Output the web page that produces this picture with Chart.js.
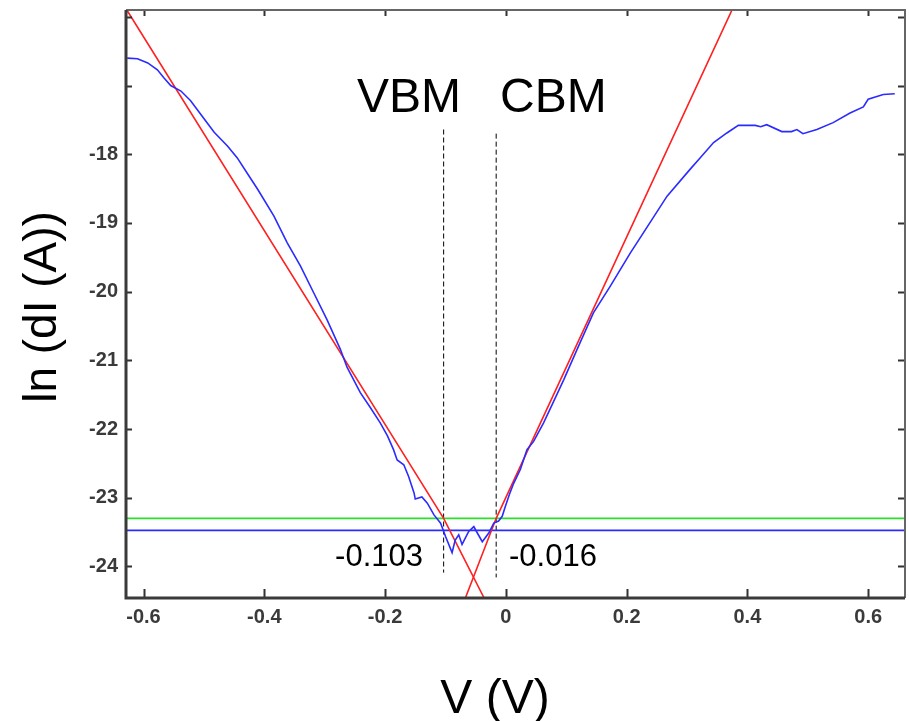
<!DOCTYPE html>
<html>
<head>
<meta charset="utf-8">
<script src="https://cdn.jsdelivr.net/npm/chart.js@4/dist/chart.umd.min.js"></script>
<style>
  html, body { margin: 0; padding: 0; background: #fff; }
  #wrap { width: 909px; height: 721px; }
</style>
</head>
<body>
<div id="wrap"><canvas id="c" width="909" height="721"></canvas></div>
<script>
// Measured tunneling spectrum: bias voltage (V) vs ln(dI)
const blueV = [
  -0.627, -0.610, -0.593, -0.577, -0.566, -0.555, -0.538, -0.522, -0.505, -0.483,
  -0.461, -0.445, -0.428, -0.411, -0.384, -0.362, -0.340, -0.318, -0.296, -0.274,
  -0.263, -0.241, -0.225, -0.208, -0.196, -0.186, -0.180, -0.169, -0.161, -0.152,
  -0.150, -0.139, -0.130, -0.119, -0.108, -0.100, -0.089, -0.084, -0.078, -0.0725,
  -0.0615, -0.053, -0.050, -0.039, -0.028, -0.020, -0.012, -0.006, -0.001, 0.006,
  0.013, 0.024, 0.035, 0.046, 0.0625, 0.079, 0.096, 0.118, 0.145, 0.173,
  0.206, 0.228, 0.267, 0.305, 0.322, 0.344, 0.366, 0.385, 0.413, 0.422,
  0.432, 0.457, 0.473, 0.482, 0.492, 0.515, 0.542, 0.570, 0.592, 0.600,
  0.625, 0.644
];
const blueLnI = [
  -16.60, -16.61, -16.67, -16.77, -16.89, -17.00, -17.08, -17.22, -17.42, -17.68,
  -17.88, -18.05, -18.28, -18.51, -18.90, -19.29, -19.63, -20.02, -20.41, -20.84,
  -21.10, -21.47, -21.68, -21.91, -22.10, -22.30, -22.45, -22.52, -22.69, -22.93,
  -23.02, -22.99, -23.08, -23.25, -23.37, -23.56, -23.80, -23.62, -23.54, -23.68,
  -23.49, -23.42, -23.47, -23.64, -23.51, -23.37, -23.34, -23.27, -23.13, -22.95,
  -22.79, -22.59, -22.30, -22.18, -21.91, -21.60, -21.28, -20.84, -20.31, -19.92,
  -19.44, -19.14, -18.61, -18.22, -18.05, -17.83, -17.69, -17.58, -17.58, -17.60,
  -17.57, -17.67, -17.67, -17.64, -17.70, -17.64, -17.54, -17.40, -17.31, -17.20,
  -17.13, -17.12
];

// Linear fits of the valence and conduction band edges
const redLeftV   = [-0.629, -0.103, -0.036];
const redLeftLnI = [-15.88, -23.30, -24.46];
const redRightV   = [-0.067, -0.016, 0.375];
const redRightLnI = [-24.46, -23.30, -15.89];

// Noise floor levels
const greenLevel = -23.30;
const blueLevel  = -23.475;

// Band edge positions
const vbmV = -0.103;
const cbmV = -0.016;
const vbmLnIRange = [-17.64, -24.09];
const cbmLnIRange = [-17.70, -24.16];

// Axes
const xMin = -0.629, xMax = 0.661;
const yMin = -24.46, yMax = -15.90;
const xTickValues = [-0.6, -0.4, -0.2, 0, 0.2, 0.4, 0.6];
const yTickValues = [-24, -23, -22, -21, -20, -19, -18, -17, -16];
const yLabeledTicks = [-24, -23, -22, -21, -20, -19, -18];

const pts = (xs, ys) => xs.map((x, i) => ({ x: x, y: ys[i] }));

const frameAndTicks = {
  id: 'frameAndTicks',
  afterDatasetsDraw(chart) {
    const { ctx, chartArea: a, scales: { x, y } } = chart;
    ctx.save();
    // inward tick marks on all four sides
    ctx.strokeStyle = '#333';
    ctx.lineWidth = 2;
    ctx.beginPath();
    xTickValues.forEach(v => {
      const px = Math.round(x.getPixelForValue(v)) + 0.5;
      ctx.moveTo(px, a.bottom); ctx.lineTo(px, a.bottom - 9);
      ctx.moveTo(px, a.top); ctx.lineTo(px, a.top + 6);
    });
    yTickValues.forEach(v => {
      const py = Math.round(y.getPixelForValue(v)) + 0.5;
      if (py < a.top + 2) return;
      ctx.moveTo(a.left, py); ctx.lineTo(a.left + 6, py);
      ctx.moveTo(a.right, py); ctx.lineTo(a.right - 7, py);
    });
    ctx.stroke();
    // frame
    ctx.strokeStyle = '#666';
    ctx.lineWidth = 2;
    ctx.beginPath();
    ctx.moveTo(a.left, a.top); ctx.lineTo(a.right, a.top); ctx.lineTo(a.right, a.bottom);
    ctx.stroke();
    ctx.strokeStyle = '#3a3a3a';
    ctx.lineWidth = 3;
    ctx.beginPath();
    ctx.moveTo(a.left, a.top); ctx.lineTo(a.left, a.bottom); ctx.lineTo(a.right, a.bottom);
    ctx.stroke();

    // annotations
    ctx.fillStyle = '#000';
    ctx.textBaseline = 'alphabetic';
    ctx.font = '48px "Liberation Sans", Arial, sans-serif';
    ctx.textAlign = 'left';
    ctx.fillText('VBM', 357, 112);
    ctx.fillText('CBM', 500, 112);
    ctx.font = '31px "Liberation Sans", Arial, sans-serif';
    ctx.textAlign = 'right';
    ctx.fillText('-0.103', 423, 566);
    ctx.textAlign = 'left';
    ctx.fillText('-0.016', 509, 566);

    // axis titles
    ctx.font = '48px "Liberation Sans", Arial, sans-serif';
    ctx.textAlign = 'center';
    ctx.fillText('V (V)', 495, 713);
    ctx.save();
    ctx.translate(56, 307);
    ctx.rotate(-Math.PI / 2);
    ctx.font = '46px "Liberation Sans", Arial, sans-serif';
    ctx.fillText('ln (dI (A))', 0, 0);
    ctx.restore();
    ctx.restore();
  }
};

new Chart(document.getElementById('c'), {
  type: 'line',
  data: {
    datasets: [
      { data: pts(blueV, blueLnI), borderColor: '#2b2bff', borderWidth: 1.6 },
      { data: pts(redLeftV, redLeftLnI), borderColor: '#ff2020', borderWidth: 1.6 },
      { data: pts(redRightV, redRightLnI), borderColor: '#ff2020', borderWidth: 1.6 },
      { data: pts([xMin, xMax], [greenLevel, greenLevel]), borderColor: '#2be02b', borderWidth: 1.8 },
      { data: pts([xMin, xMax], [blueLevel, blueLevel]), borderColor: '#2b2bff', borderWidth: 1.8 },
      { data: pts([vbmV, vbmV], vbmLnIRange), borderColor: '#000', borderWidth: 1, borderDash: [5, 3] },
      { data: pts([cbmV, cbmV], cbmLnIRange), borderColor: '#000', borderWidth: 1, borderDash: [5, 3] }
    ]
  },
  options: {
    responsive: false,
    animation: false,
    events: [],
    layout: { padding: { top: 10, right: 4, left: 0, bottom: 0 } },
    elements: { point: { radius: 0 }, line: { tension: 0, fill: false } },
    plugins: { legend: { display: false }, tooltip: { enabled: false }, title: { display: false } },
    scales: {
      x: {
        type: 'linear',
        min: xMin, max: xMax,
        grid: { display: false, drawTicks: false },
        border: { display: false },
        afterBuildTicks: s => { s.ticks = xTickValues.map(v => ({ value: v })); },
        afterFit: s => { s.height = 123; s.paddingLeft = 0; s.paddingRight = 0; },
        ticks: {
          padding: 7,
          color: '#3a3a3a',
          maxRotation: 0,
          autoSkip: false,
          font: { family: '"Liberation Sans", Arial, sans-serif', size: 20, weight: 'bold' },
          callback: v => (Math.abs(v) < 1e-9 ? '0' : v.toFixed(1))
        }
      },
      y: {
        type: 'linear',
        min: yMin, max: yMax,
        grid: { display: false, drawTicks: false },
        border: { display: false },
        afterBuildTicks: s => { s.ticks = yTickValues.map(v => ({ value: v })); },
        afterFit: s => { s.width = 126; s.paddingTop = 0; s.paddingBottom = 0; },
        ticks: {
          padding: 8,
          color: '#3a3a3a',
          autoSkip: false,
          font: { family: '"Liberation Sans", Arial, sans-serif', size: 20, weight: 'bold' },
          callback: v => (yLabeledTicks.includes(v) ? String(v) : '')
        }
      }
    }
  },
  plugins: [frameAndTicks]
});
</script>
</body>
</html>
